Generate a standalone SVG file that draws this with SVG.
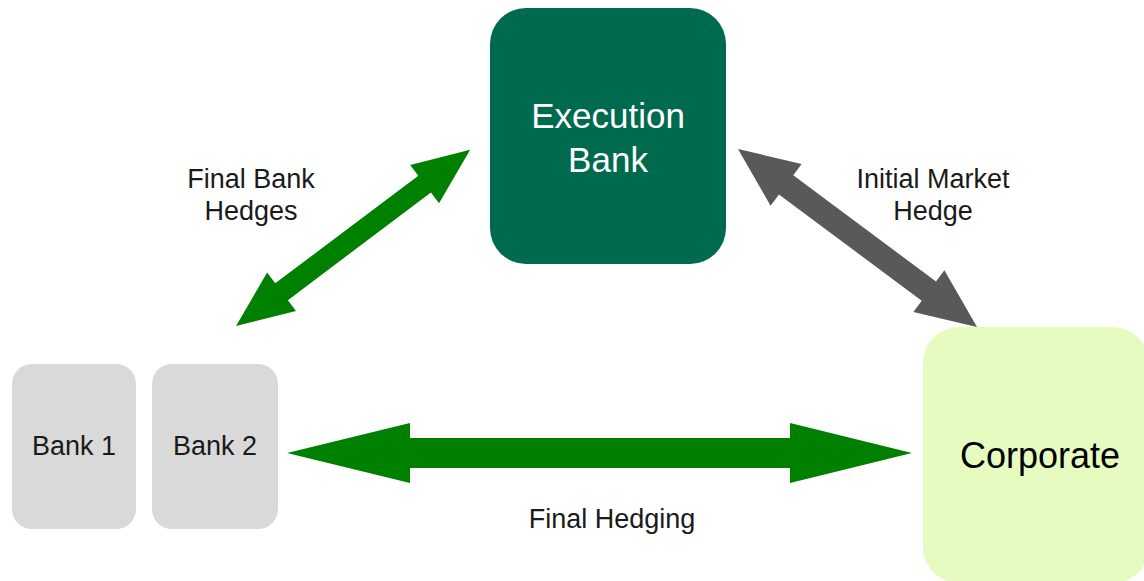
<svg xmlns="http://www.w3.org/2000/svg" width="1144" height="581" viewBox="0 0 1144 581">
  <style>
    .lbl { font-family: "Liberation Sans", Arial, sans-serif; fill: #1a1a1a; text-anchor: middle; }
    .edge-lbl { font-size: 27px; }
    .bank { fill: #d9d9d9; }
    .green { fill: #008000; }
    .grey { fill: #595959; }
  </style>
  <rect width="1144" height="581" fill="#ffffff"/>

  <!-- nodes -->
  <g id="execution-bank">
    <rect x="490" y="8" width="236" height="256" rx="36" fill="#006a4e"/>
    <text class="lbl" x="608" y="128" font-size="35" style="fill:#ffffff">Execution</text>
    <text class="lbl" x="608" y="172" font-size="35" style="fill:#ffffff">Bank</text>
  </g>
  <g id="bank-1">
    <rect class="bank" x="12" y="364" width="124" height="165" rx="20"/>
    <text class="lbl" x="74" y="455" font-size="27">Bank 1</text>
  </g>
  <g id="bank-2">
    <rect class="bank" x="152" y="364" width="126" height="165" rx="20"/>
    <text class="lbl" x="215" y="455" font-size="27">Bank 2</text>
  </g>
  <g id="corporate">
    <rect x="923" y="327" width="226" height="256" rx="36" fill="#e5fbbf"/>
    <text class="lbl" x="1040" y="468" font-size="36" style="fill:#000000">Corporate</text>
  </g>

  <!-- connectors: block double arrows -->
  <g id="connectors">
    <!-- Final Bank Hedges: Bank 2 <-> Execution Bank -->
    <polygon class="green" transform="translate(236,326) rotate(-36.95)"
      points="0,0 57,-24 57,-10.5 236,-10.5 236,-24 293,0 236,24 236,10.5 57,10.5 57,24"/>
    <!-- Initial Market Hedge: Execution Bank <-> Corporate -->
    <polygon class="grey" transform="translate(738,149) rotate(36.68)"
      points="0,0 60,-26 60,-12 238,-12 238,-26 298,0 238,26 238,12 60,12 60,26"/>
    <!-- Final Hedging: Bank 2 <-> Corporate -->
    <polygon class="green"
      points="287,453 410,423 410,438 790,438 790,423 912,453 790,483 790,468 410,468 410,483"/>
  </g>

  <!-- connector labels -->
  <g id="labels">
    <text class="lbl edge-lbl" x="251" y="188">Final Bank</text>
    <text class="lbl edge-lbl" x="251" y="220">Hedges</text>
    <text class="lbl edge-lbl" x="933" y="188">Initial Market</text>
    <text class="lbl edge-lbl" x="933" y="220">Hedge</text>
    <text class="lbl edge-lbl" x="612" y="528">Final Hedging</text>
  </g>
</svg>
